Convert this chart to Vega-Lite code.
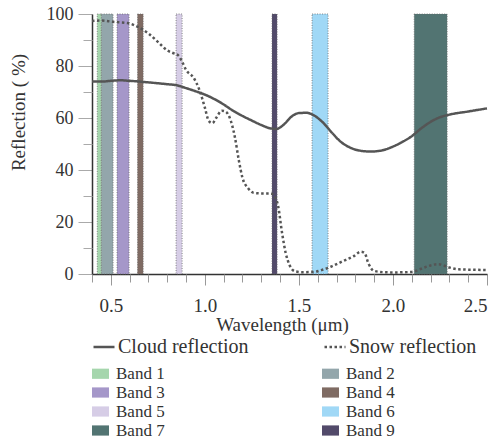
{
  "$schema": "https://vega.github.io/schema/vega-lite/v6.json",
  "width": 395,
  "height": 260,
  "autosize": "none",
  "padding": {"left": 92, "top": 14, "right": 12, "bottom": 165},
  "background": "white",
  "config": {
    "view": {"stroke": null},
    "font": "Liberation Serif",
    "axis": {
      "labelFont": "Liberation Serif",
      "titleFont": "Liberation Serif",
      "labelColor": "#333",
      "titleColor": "#333",
      "titleFontWeight": "normal",
      "grid": false
    },
    "legend": {
      "labelFont": "Liberation Serif",
      "labelColor": "#333",
      "padding": 0
    }
  },
  "datasets": {
    "bands": [
      {"band": "Band 2", "start": 0.449, "end": 0.512},
      {"band": "Band 1", "start": 0.428, "end": 0.449},
      {"band": "Band 3", "start": 0.533, "end": 0.597},
      {"band": "Band 4", "start": 0.642, "end": 0.672},
      {"band": "Band 5", "start": 0.847, "end": 0.879},
      {"band": "Band 9", "start": 1.357, "end": 1.384},
      {"band": "Band 6", "start": 1.570, "end": 1.655},
      {"band": "Band 7", "start": 2.113, "end": 2.288}
    ],
    "curves": [
      {"series": "Cloud reflection", "wl": 0.40, "val": 74.0},
      {"series": "Cloud reflection", "wl": 0.45, "val": 74.0},
      {"series": "Cloud reflection", "wl": 0.50, "val": 74.3},
      {"series": "Cloud reflection", "wl": 0.55, "val": 74.5},
      {"series": "Cloud reflection", "wl": 0.60, "val": 74.3},
      {"series": "Cloud reflection", "wl": 0.70, "val": 73.7},
      {"series": "Cloud reflection", "wl": 0.80, "val": 73.0},
      {"series": "Cloud reflection", "wl": 0.85, "val": 72.6},
      {"series": "Cloud reflection", "wl": 0.90, "val": 71.5},
      {"series": "Cloud reflection", "wl": 0.95, "val": 70.3},
      {"series": "Cloud reflection", "wl": 1.00, "val": 69.0},
      {"series": "Cloud reflection", "wl": 1.05, "val": 67.3},
      {"series": "Cloud reflection", "wl": 1.10, "val": 65.2},
      {"series": "Cloud reflection", "wl": 1.15, "val": 62.8},
      {"series": "Cloud reflection", "wl": 1.20, "val": 60.8},
      {"series": "Cloud reflection", "wl": 1.25, "val": 59.0},
      {"series": "Cloud reflection", "wl": 1.30, "val": 57.3},
      {"series": "Cloud reflection", "wl": 1.35, "val": 56.0},
      {"series": "Cloud reflection", "wl": 1.38, "val": 55.8},
      {"series": "Cloud reflection", "wl": 1.42, "val": 57.5},
      {"series": "Cloud reflection", "wl": 1.46, "val": 60.5},
      {"series": "Cloud reflection", "wl": 1.50, "val": 61.9},
      {"series": "Cloud reflection", "wl": 1.54, "val": 62.0},
      {"series": "Cloud reflection", "wl": 1.58, "val": 61.0},
      {"series": "Cloud reflection", "wl": 1.62, "val": 58.8},
      {"series": "Cloud reflection", "wl": 1.68, "val": 54.0},
      {"series": "Cloud reflection", "wl": 1.72, "val": 51.0},
      {"series": "Cloud reflection", "wl": 1.77, "val": 48.7},
      {"series": "Cloud reflection", "wl": 1.82, "val": 47.5},
      {"series": "Cloud reflection", "wl": 1.88, "val": 47.1},
      {"series": "Cloud reflection", "wl": 1.94, "val": 47.5},
      {"series": "Cloud reflection", "wl": 1.99, "val": 48.7},
      {"series": "Cloud reflection", "wl": 2.05, "val": 50.8},
      {"series": "Cloud reflection", "wl": 2.10, "val": 53.0},
      {"series": "Cloud reflection", "wl": 2.15, "val": 56.0},
      {"series": "Cloud reflection", "wl": 2.20, "val": 58.5},
      {"series": "Cloud reflection", "wl": 2.25, "val": 60.3},
      {"series": "Cloud reflection", "wl": 2.30, "val": 61.3},
      {"series": "Cloud reflection", "wl": 2.40, "val": 62.5},
      {"series": "Cloud reflection", "wl": 2.50, "val": 63.7},
      {"series": "Snow reflection", "wl": 0.40, "val": 97.3},
      {"series": "Snow reflection", "wl": 0.45, "val": 97.5},
      {"series": "Snow reflection", "wl": 0.51, "val": 97.0},
      {"series": "Snow reflection", "wl": 0.59, "val": 96.5},
      {"series": "Snow reflection", "wl": 0.65, "val": 94.8},
      {"series": "Snow reflection", "wl": 0.70, "val": 92.5},
      {"series": "Snow reflection", "wl": 0.75, "val": 89.3},
      {"series": "Snow reflection", "wl": 0.80, "val": 86.0},
      {"series": "Snow reflection", "wl": 0.83, "val": 85.0},
      {"series": "Snow reflection", "wl": 0.86, "val": 84.0},
      {"series": "Snow reflection", "wl": 0.88, "val": 81.5},
      {"series": "Snow reflection", "wl": 0.90, "val": 78.5},
      {"series": "Snow reflection", "wl": 0.94, "val": 75.5},
      {"series": "Snow reflection", "wl": 0.97, "val": 71.0},
      {"series": "Snow reflection", "wl": 1.00, "val": 64.0},
      {"series": "Snow reflection", "wl": 1.02, "val": 59.0},
      {"series": "Snow reflection", "wl": 1.04, "val": 58.0},
      {"series": "Snow reflection", "wl": 1.06, "val": 60.0},
      {"series": "Snow reflection", "wl": 1.09, "val": 62.8},
      {"series": "Snow reflection", "wl": 1.11, "val": 62.5},
      {"series": "Snow reflection", "wl": 1.13, "val": 60.5},
      {"series": "Snow reflection", "wl": 1.16, "val": 52.5},
      {"series": "Snow reflection", "wl": 1.18, "val": 44.0},
      {"series": "Snow reflection", "wl": 1.20, "val": 37.0},
      {"series": "Snow reflection", "wl": 1.23, "val": 33.0},
      {"series": "Snow reflection", "wl": 1.26, "val": 31.2},
      {"series": "Snow reflection", "wl": 1.30, "val": 31.0},
      {"series": "Snow reflection", "wl": 1.35, "val": 31.0},
      {"series": "Snow reflection", "wl": 1.37, "val": 30.0},
      {"series": "Snow reflection", "wl": 1.39, "val": 26.0},
      {"series": "Snow reflection", "wl": 1.41, "val": 16.0},
      {"series": "Snow reflection", "wl": 1.43, "val": 8.0},
      {"series": "Snow reflection", "wl": 1.45, "val": 3.5},
      {"series": "Snow reflection", "wl": 1.48, "val": 1.0},
      {"series": "Snow reflection", "wl": 1.52, "val": 0.7},
      {"series": "Snow reflection", "wl": 1.58, "val": 0.8},
      {"series": "Snow reflection", "wl": 1.62, "val": 1.5},
      {"series": "Snow reflection", "wl": 1.67, "val": 2.8},
      {"series": "Snow reflection", "wl": 1.73, "val": 4.8},
      {"series": "Snow reflection", "wl": 1.79, "val": 6.8},
      {"series": "Snow reflection", "wl": 1.83, "val": 8.6},
      {"series": "Snow reflection", "wl": 1.85, "val": 8.0},
      {"series": "Snow reflection", "wl": 1.87, "val": 4.0},
      {"series": "Snow reflection", "wl": 1.90, "val": 1.2},
      {"series": "Snow reflection", "wl": 1.95, "val": 0.7},
      {"series": "Snow reflection", "wl": 2.00, "val": 0.6},
      {"series": "Snow reflection", "wl": 2.10, "val": 0.8},
      {"series": "Snow reflection", "wl": 2.15, "val": 2.0},
      {"series": "Snow reflection", "wl": 2.20, "val": 3.3},
      {"series": "Snow reflection", "wl": 2.24, "val": 3.8},
      {"series": "Snow reflection", "wl": 2.30, "val": 2.5},
      {"series": "Snow reflection", "wl": 2.35, "val": 1.8},
      {"series": "Snow reflection", "wl": 2.45, "val": 1.6},
      {"series": "Snow reflection", "wl": 2.50, "val": 1.5}
    ]
  },
  "resolve": {"axis": {"x": "independent", "y": "independent"}},
  "layer": [
    {
      "data": {"name": "bands"},
      "mark": {"type": "rect", "stroke": "#6a6a6a", "strokeWidth": 0.8, "strokeDash": [1, 1.5]},
      "encoding": {
        "x": {"field": "start", "type": "quantitative", "scale": {"domain": [0.4, 2.5], "nice": false, "zero": false}, "axis": null},
        "x2": {"field": "end"},
        "fill": {
          "field": "band", "type": "nominal",
          "scale": {
            "domain": ["Band 1", "Band 2", "Band 3", "Band 4", "Band 5", "Band 6", "Band 7", "Band 9"],
            "range": ["#a5d6ad", "#93a6ab", "#a597c9", "#7f6b63", "#d6cde6", "#a0d8f6", "#527472", "#524a6a"]
          },
          "legend": {
            "title": null,
            "orient": "none",
            "legendX": 0,
            "legendY": 351,
            "direction": "horizontal",
            "columns": 2,
            "columnPadding": 157,
            "rowPadding": 1,
            "symbolType": "M-1,-0.6H1V0.6H-1Z",
            "symbolSize": 289,
            "symbolStrokeWidth": 0,
            "labelFontSize": 17,
            "labelOffset": 7
          }
        }
      }
    },
    {
      "data": {"name": "curves"},
      "transform": [{"filter": "datum.series === 'Cloud reflection'"}],
      "mark": {"type": "line", "stroke": "#555", "strokeWidth": 2.5, "interpolate": "monotone"},
      "encoding": {
        "x": {
          "field": "wl", "type": "quantitative",
          "scale": {"domain": [0.4, 2.5], "nice": false, "zero": false},
          "axis": {
            "orient": "bottom",
            "title": "Wavelength (μm)",
            "values": [0.5, 1.0, 1.5, 2.0, 2.5],
            "format": ".1f",
            "domainColor": "#333",
            "domainWidth": 1.5,
            "tickColor": "#999",
            "tickSize": 11,
            "labelFontSize": 19,
            "labelPadding": 11,
            "titleFontSize": 19,
            "titlePadding": 0,
            "titleX": 190
          }
        },
        "y": {
          "field": "val", "type": "quantitative",
          "scale": {"domain": [0, 100], "nice": false},
          "axis": {
            "orient": "left",
            "title": "Reflection ( %)",
            "values": [0, 20, 40, 60, 80, 100],
            "domainColor": "#333",
            "domainWidth": 1.5,
            "tickColor": "#aaa",
            "tickSize": 14,
            "labelFontSize": 18,
            "labelPadding": 5,
            "titleFontSize": 19,
            "titlePadding": 18,
            "titleY": 98
          }
        },
        "strokeDash": {
          "field": "series", "type": "nominal",
          "scale": {"domain": ["Cloud reflection", "Snow reflection"], "range": [[1, 0], [2.5, 2.5]]},
          "legend": {
            "title": null,
            "orient": "none",
            "legendX": 0,
            "legendY": 321,
            "direction": "horizontal",
            "columns": 2,
            "columnPadding": 70,
            "symbolType": "stroke",
            "symbolSize": 441,
            "symbolStrokeColor": "#555",
            "symbolStrokeWidth": 2.5,
            "labelFontSize": 20,
            "labelOffset": 2
          }
        }
      }
    },
    {
      "data": {"name": "curves"},
      "transform": [{"filter": "datum.series === 'Snow reflection'"}],
      "mark": {"type": "line", "stroke": "#555", "strokeWidth": 2.5, "interpolate": "monotone"},
      "encoding": {
        "x": {
          "field": "wl", "type": "quantitative",
          "scale": {"domain": [0.4, 2.5], "nice": false, "zero": false},
          "axis": {
            "orient": "bottom",
            "title": null,
            "values": [0.4, 0.6, 0.7, 0.8, 0.9, 1.1, 1.2, 1.3, 1.4, 1.6, 1.7, 1.8, 1.9, 2.1, 2.2, 2.3, 2.4],
            "labels": false,
            "domain": false,
            "tickColor": "#999",
            "tickSize": 8
          }
        },
        "y": {
          "field": "val", "type": "quantitative",
          "scale": {"domain": [0, 100], "nice": false},
          "axis": {
            "orient": "left",
            "title": null,
            "values": [10, 30, 50, 70, 90],
            "labels": false,
            "domain": false,
            "tickColor": "#aaa",
            "tickSize": 9
          }
        },
        "strokeDash": {"field": "series", "type": "nominal"}
      }
    }
  ]
}
